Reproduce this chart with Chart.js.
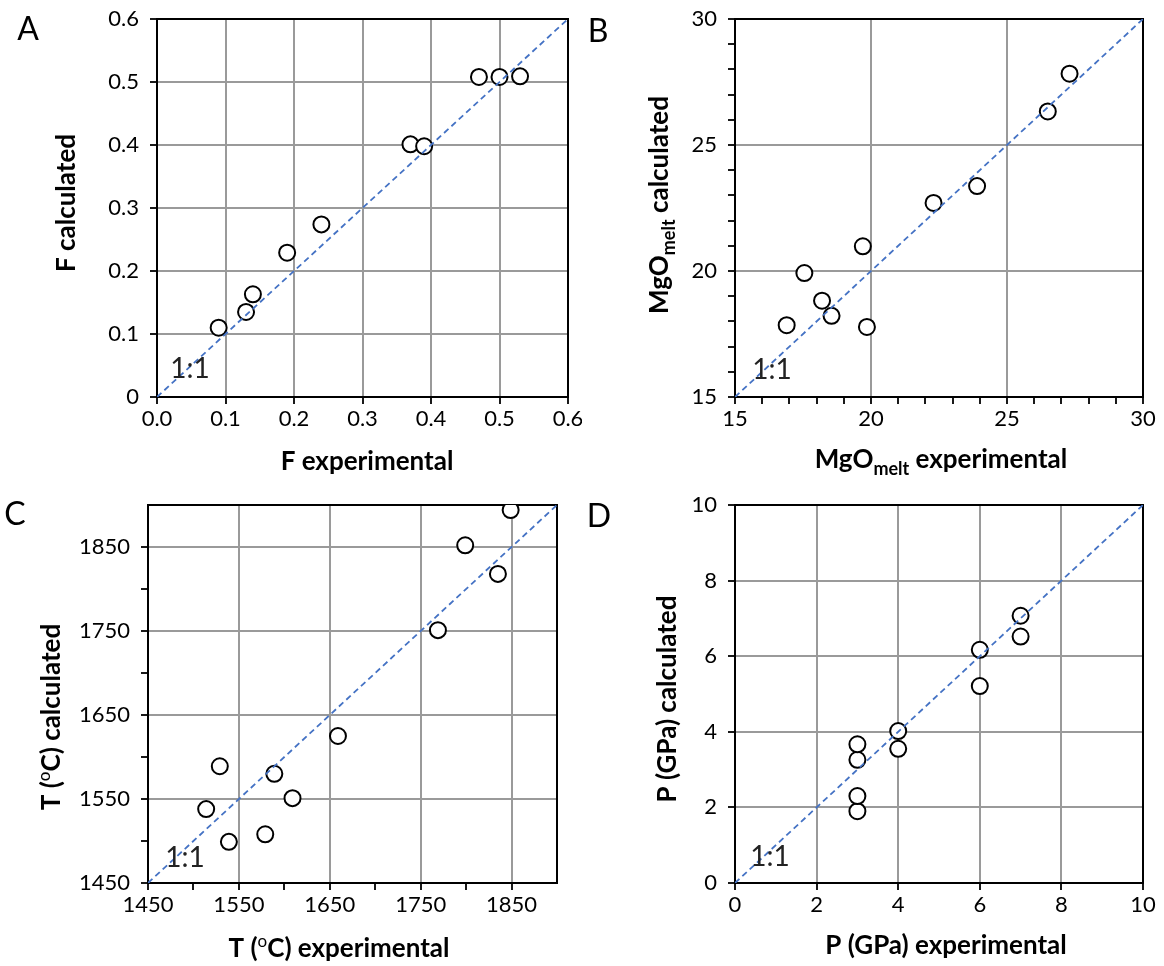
<!DOCTYPE html>
<html>
<head>
<meta charset="utf-8">
<title>Calculated vs experimental</title>
<script src="https://cdn.jsdelivr.net/npm/chart.js@4.4.1/dist/chart.umd.min.js"></script>
<style>
  html, body { margin: 0; background: #fff; }
  #wrap { position: relative; width: 1164px; height: 966px; }
  .panel { position: absolute; width: 582px; height: 483px; }
  .panel canvas { display: block; }
</style>
</head>
<body>
<div id="wrap">
  <div class="panel" style="left:0;top:0"><canvas id="chartA" width="582" height="483"></canvas></div>
  <div class="panel" style="left:582px;top:0"><canvas id="chartB" width="582" height="483"></canvas></div>
  <div class="panel" style="left:0;top:483px"><canvas id="chartC" width="582" height="483"></canvas></div>
  <div class="panel" style="left:582px;top:483px"><canvas id="chartD" width="582" height="483"></canvas></div>
</div>
<script>
// Panel A - melt fraction
const fRange = [0, 0.6];
const fExperimental = [0.09, 0.13, 0.14, 0.19, 0.24, 0.37, 0.39, 0.47, 0.50, 0.53];
const fCalculated = [0.110, 0.135, 0.163, 0.229, 0.274, 0.401, 0.398, 0.508, 0.508, 0.509];
const fTickValues = [0, 0.1, 0.2, 0.3, 0.4, 0.5, 0.6];
const fXTickLabels = ['0.0', '0.1', '0.2', '0.3', '0.4', '0.5', '0.6'];
const fYTickLabels = ['0', '0.1', '0.2', '0.3', '0.4', '0.5', '0.6'];

// Panel B - MgO in melt (wt%)
const mgoRange = [15, 30];
const mgoExperimental = [16.9, 17.55, 18.2, 18.55, 19.7, 19.85, 22.3, 23.9, 26.5, 27.3];
const mgoCalculated = [17.85, 19.92, 18.82, 18.22, 20.98, 17.78, 22.7, 23.37, 26.33, 27.83];
const mgoTickValues = [15, 16, 17, 18, 19, 20, 21, 22, 23, 24, 25, 26, 27, 28, 29, 30];
const mgoTickLabels = ['15', '', '', '', '', '20', '', '', '', '', '25', '', '', '', '', '30'];

// Panel C - temperature
const tRange = [1450, 1900];
const tExperimental = [1514, 1529, 1539, 1579, 1589, 1609, 1659, 1769, 1799, 1835, 1849];
const tCalculated = [1538, 1589, 1499, 1508, 1580, 1551, 1625, 1751, 1852, 1818, 1894];
const tTickValues = [1450, 1500, 1550, 1600, 1650, 1700, 1750, 1800, 1850];
const tTickLabels = ['1450', '', '1550', '', '1650', '', '1750', '', '1850'];

// Panel D - pressure
const pRange = [0, 10];
const pExperimental = [3, 3, 3, 3, 4, 4, 6, 6, 7, 7];
const pCalculated = [1.90, 2.30, 3.26, 3.67, 3.55, 4.02, 5.21, 6.17, 6.52, 7.07];
const pTickValues = [0, 2, 4, 6, 8, 10];
const pTickLabels = ['0', '2', '4', '6', '8', '10'];

const FONT = 'Lato, "Open Sans", sans-serif';
const W = 582, H = 483;

// black frame round the plot area, under the markers
const framePlugin = {
  id: 'frame',
  beforeDatasetsDraw(chart) {
    const { ctx, chartArea: a } = chart;
    ctx.save();
    ctx.strokeStyle = '#000';
    ctx.lineWidth = 2;
    ctx.strokeRect(a.left, a.top, a.right - a.left, a.bottom - a.top);
    ctx.restore();
  }
};

// text made of runs, so subscripts and superscripts can sit in titles
function drawRuns(ctx, runs, x, y, rotate) {
  ctx.save();
  ctx.translate(x, y);
  if (rotate) ctx.rotate(-Math.PI / 2);
  ctx.textBaseline = 'middle';
  ctx.textAlign = 'left';
  ctx.fillStyle = '#000';
  const fontOf = r => r.sub ? `bold 18px ${FONT}` : r.sup ? `17px ${FONT}` : `bold 26px ${FONT}`;
  let total = 0;
  runs.forEach(r => { ctx.font = fontOf(r); total += ctx.measureText(r.t).width; });
  let cx = -total / 2;
  runs.forEach(r => {
    ctx.font = fontOf(r);
    const dy = r.sub ? 9 : r.sup ? -7 : 0;
    ctx.fillText(r.t, cx, dy);
    cx += ctx.measureText(r.t).width;
  });
  ctx.restore();
}

const labelsPlugin = {
  id: 'panelText',
  afterDraw(chart, args, opts) {
    const ctx = chart.ctx;
    ctx.save();
    ctx.fillStyle = '#000';
    ctx.textAlign = 'center';
    ctx.textBaseline = 'middle';
    ctx.font = `32px ${FONT}`;
    ctx.fillText(opts.letter, opts.letterAt[0], opts.letterAt[1]);
    ctx.fillStyle = '#222';
    ctx.font = `28px ${FONT}`;
    ctx.fillText('1:1', opts.ratioAt[0], opts.ratioAt[1]);
    ctx.restore();
    drawRuns(ctx, opts.xTitle, opts.xTitleAt[0], opts.xTitleAt[1], false);
    drawRuns(ctx, opts.yTitle, opts.yTitleAt[0], opts.yTitleAt[1], true);
  }
};

function axis(range, values, labels, fitSize, horizontal) {
  return {
    type: 'linear',
    min: range[0],
    max: range[1],
    afterBuildTicks: s => { s.ticks = values.map(v => ({ value: v })); },
    afterFit: s => {
      if (horizontal) {
        s.height = fitSize;
        s.paddingLeft = 0;
        s.paddingRight = 0;
      } else {
        s.width = fitSize;
        s.paddingTop = 0;
        s.paddingBottom = 0;
      }
    },
    ticks: {
      autoSkip: false,
      maxRotation: 0,
      padding: horizontal ? 2 : 11,
      color: '#000',
      font: { family: FONT, size: 22 },
      callback: (v, i) => labels[i]
    },
    grid: {
      color: c => (labels[c.index] ? '#9a9a9a' : 'rgba(0,0,0,0)'),
      lineWidth: 2,
      tickLength: 7,
      tickColor: '#000',
      tickWidth: 1.8
    },
    border: { display: false }
  };
}

function makePanel(id, p) {
  const points = p.xs.map((x, i) => ({ x, y: p.ys[i] }));
  const oneToOne = p.range.map(v => ({ x: v, y: v }));
  return new Chart(document.getElementById(id), {
    type: 'scatter',
    data: {
      datasets: [
        {
          data: oneToOne,
          showLine: true,
          borderColor: '#4472C4',
          borderWidth: 1.8,
          borderDash: [6, 4],
          pointRadius: 0
        },
        {
          data: points,
          pointRadius: 8,
          borderColor: '#000',
          borderWidth: 2,
          backgroundColor: '#fff'
        }
      ]
    },
    options: {
      responsive: false,
      animation: false,
      events: [],
      layout: { padding: { left: 0, top: p.area.top, right: W - p.area.right, bottom: 0 } },
      scales: {
        x: axis(p.range, p.ticks, p.xLabels, H - p.area.bottom, true),
        y: axis(p.range, p.ticks, p.yLabels, p.area.left, false)
      },
      plugins: {
        legend: { display: false },
        tooltip: { enabled: false },
        panelText: p.text
      }
    },
    plugins: [framePlugin, labelsPlugin]
  });
}

makePanel('chartA', {
  range: fRange, xs: fExperimental, ys: fCalculated,
  ticks: fTickValues, xLabels: fXTickLabels, yLabels: fYTickLabels,
  area: { left: 157, right: 568, top: 19, bottom: 397 },
  text: {
    letter: 'A', letterAt: [28, 30], ratioAt: [190, 369],
    xTitle: [{ t: 'F experimental' }], xTitleAt: [367, 462],
    yTitle: [{ t: 'F calculated' }], yTitleAt: [67, 203]
  }
});

makePanel('chartB', {
  range: mgoRange, xs: mgoExperimental, ys: mgoCalculated,
  ticks: mgoTickValues, xLabels: mgoTickLabels, yLabels: mgoTickLabels,
  area: { left: 153, right: 561, top: 19, bottom: 397 },
  text: {
    letter: 'B', letterAt: [16, 32], ratioAt: [190, 370],
    xTitle: [{ t: 'MgO' }, { t: 'melt', sub: true }, { t: ' experimental' }], xTitleAt: [359, 460],
    yTitle: [{ t: 'MgO' }, { t: 'melt', sub: true }, { t: ' calculated' }], yTitleAt: [78, 205]
  }
});

makePanel('chartC', {
  range: tRange, xs: tExperimental, ys: tCalculated,
  ticks: tTickValues, xLabels: tTickLabels, yLabels: tTickLabels,
  area: { left: 148, right: 557, top: 22, bottom: 400 },
  text: {
    letter: 'C', letterAt: [15, 32], ratioAt: [185, 375],
    xTitle: [{ t: 'T (' }, { t: 'o', sup: true }, { t: 'C) experimental' }], xTitleAt: [339, 466],
    yTitle: [{ t: 'T (' }, { t: 'o', sup: true }, { t: 'C) calculated' }], yTitleAt: [52, 234]
  }
});

makePanel('chartD', {
  range: pRange, xs: pExperimental, ys: pCalculated,
  ticks: pTickValues, xLabels: pTickLabels, yLabels: pTickLabels,
  area: { left: 153, right: 561, top: 22, bottom: 400 },
  text: {
    letter: 'D', letterAt: [17, 34], ratioAt: [188, 374],
    xTitle: [{ t: 'P (GPa) experimental' }], xTitleAt: [364, 463],
    yTitle: [{ t: 'P (GPa) calculated' }], yTitleAt: [86, 216]
  }
});
</script>
</body>
</html>
